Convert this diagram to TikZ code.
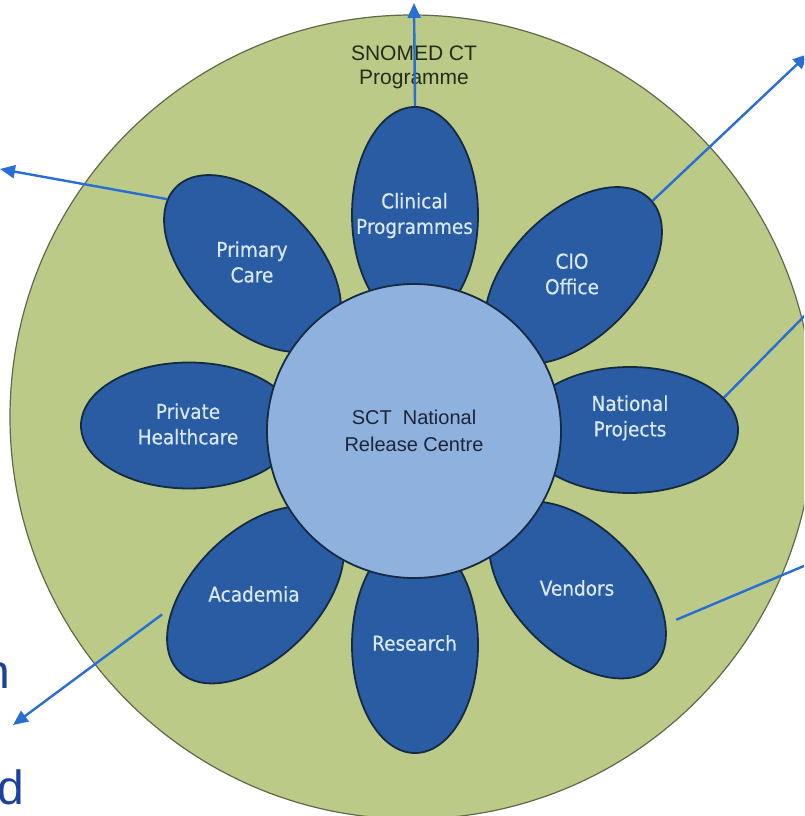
\documentclass[tikz,border=0pt]{standalone}
\usepackage{fontspec}
\setmainfont{Liberation Sans}
\newfontfamily\petalfont[FakeStretch=0.9,FakeBold=0.4]{DejaVu Sans}

\usetikzlibrary{shapes.geometric,arrows.meta}

\definecolor{progreen}{RGB}{187,202,135}
\definecolor{progline}{RGB}{95,105,75}
\definecolor{progtext}{RGB}{35,45,25}
\definecolor{petalblue}{RGB}{42,92,164}
\definecolor{petalline}{RGB}{22,42,66}
\definecolor{petaltext}{RGB}{218,233,250}
\definecolor{centreblue}{RGB}{143,177,222}
\definecolor{centretext}{RGB}{28,36,56}
\definecolor{arrowblue}{RGB}{40,110,212}
\definecolor{slideblue}{RGB}{28,66,156}

\tikzset{
  petal/.style={draw=petalline, line width=1.8pt, fill=petalblue, shape=ellipse,
    minimum width=216pt, minimum height=126pt, inner sep=0pt},
  petallabel/.style={text=petaltext, align=center, inner sep=0pt,
    font=\petalfont\fontsize{20.5}{25.5}\selectfont},
  outarrow/.style={-{Triangle[length=15pt,width=13pt]}, line width=2.4pt, draw=arrowblue}
}

\begin{document}
\begin{tikzpicture}[x=1pt,y=-1pt]
  \useasboundingbox (0,0) rectangle (804,816);
  \clip (0,0) rectangle (804,816);

  \node (prog) [draw=progline, line width=1.2pt, fill=progreen, shape=circle, minimum size=804pt] at (412,417) {};
  \node (progtxt) [text=progtext, align=center, inner sep=0pt, font=\fontsize{21}{24}\selectfont] at (414,67.5) {SNOMED CT\\Programme};

  \node (clin) [petal, rotate=90]  at (415,215) {};
  \node (cio)  [petal, rotate=45]  at (573.5,275.5) {};
  \node (natl) [petal]             at (630,430) {};
  \node (vend) [petal, rotate=-45] at (577.5,590) {};
  \node (res)  [petal, rotate=90]  at (415,645) {};
  \node (acad) [petal, rotate=45]  at (255.5,595) {};
  \node (priv) [petal]             at (189,425.5) {};
  \node (prim) [petal, rotate=135] at (252.5,263.5) {};

  \node (nrc) [draw=petalline, line width=1.8pt, fill=centreblue, shape=circle, minimum size=294pt,
    text=centretext, align=center, font=\fontsize{20}{26.5}\selectfont] at (414,431) {SCT\ \ National\\Release Centre};

  \node (clintxt) [petallabel] at (414.5,215.5) {Clinical\\Programmes};
  \node (ciotxt)  [petallabel] at (572,274)     {CIO\\Office};
  \node (natltxt) [petallabel] at (630,418)     {National\\Projects};
  \node (vendtxt) [petallabel] at (577,588)     {Vendors};
  \node (restxt)  [petallabel] at (414.5,643)   {Research};
  \node (acadtxt) [petallabel] at (254,594)     {Academia};
  \node (privtxt) [petallabel] at (188,424)     {Private\\Healthcare};
  \node (primtxt) [petallabel] at (252,262)     {Primary\\Care};

  \node (sliden) [anchor=base east, inner sep=0pt, text=slideblue, font=\fontsize{48}{48}\selectfont] at (10,688) {n};
  \node (slided) [anchor=base east, inner sep=0pt, text=slideblue, font=\fontsize{48}{48}\selectfont] at (24,804) {d};

  \coordinate (clinend) at (414,3);
  \coordinate (cioend)  at (808,54);
  \coordinate (natlend) at (830,290);
  \coordinate (vendend) at (830,555);
  \coordinate (acadend) at (13,725);
  \coordinate (primend) at (0,169);

  \draw [outarrow] (clin.east) -- (clinend);
  \draw [outarrow] (cio) -- (cioend);
  \draw [outarrow] (natl.19) -- (natlend);
  \draw [outarrow, shorten <=11pt] (vend.24) -- (vendend);
  \draw [outarrow, shorten <=13pt] (acad.143) -- (acadend);
  \draw [outarrow] (prim.8) -- (primend);
\end{tikzpicture}
\end{document}
